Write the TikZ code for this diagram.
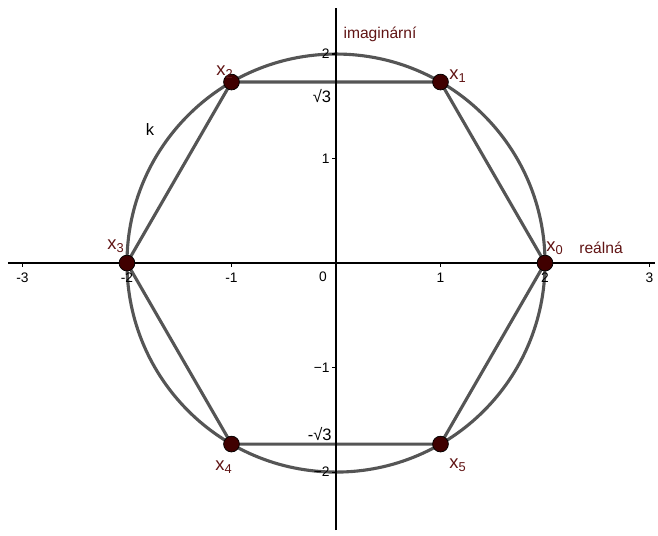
\documentclass[tikz,border=0pt]{standalone}
\usepackage{fontspec}
\setmainfont{Liberation Sans}
\usepackage{tikz}
\usetikzlibrary{positioning}
\definecolor{bodfill}{RGB}{64,0,0}
\definecolor{popis}{RGB}{96,20,20}
\definecolor{cara}{RGB}{85,85,85}

\begin{document}
\begin{tikzpicture}[x=2cm,y=2cm,
  osa/.style={line width=1.1pt,black},
  krivka/.style={line width=1.7pt,cara},
  bod/.style={circle,fill=bodfill,draw=black,line width=0.4pt,inner sep=0pt,minimum size=8.6pt},
  popisek/.style={text=popis,font=\fontsize{8.5}{9}\selectfont},
  bodpopis/.style={text=popis,font=\fontsize{10}{11}\selectfont,inner sep=1pt},
  cislo/.style={font=\fontsize{7.5}{8}\selectfont,inner sep=1pt}]
\useasboundingbox (-3.215,-2.603) rectangle (3.081,2.517);
% radius of circle k
\def\r{2}
\coordinate (O) at (0,0);
\foreach \k in {0,...,5} \coordinate (p\k) at (60*\k:\r);
% circle k and inscribed hexagon
\draw[krivka] (O) circle[radius=\r];
\draw[krivka] (p0) -- (p1) -- (p2) -- (p3) -- (p4) -- (p5) -- cycle;
% axes
\coordinate (xl) at (-3.14,0);
\coordinate (xr) at (3.05,0);
\coordinate (yb) at (0,-2.555);
\coordinate (yt) at (0,2.44);
\draw[osa] (xl) -- (xr);
\draw[osa] (yb) -- (yt);
\foreach \i/\t in {-3/-3,-2/-2,-1/-1,1/1,2/2,3/3} {
  \draw[line width=0.6pt] (\i,0) -- (\i,-0.04);
  \node[cislo,anchor=north] (tx\i) at (\i,-0.07) {\t};
}
\foreach \i/\t in {-2/−2,-1/−1,1/1,2/2} {
  \draw[line width=0.6pt] (0,\i) -- (-0.04,\i);
  \node[cislo,anchor=east] (ty\i) at (-0.04,\i) {\t};
}
\node[cislo] (t0) at (-0.124,-0.134) {0};
\node[cislo,font=\fontsize{9}{10}\selectfont] (s3) at (-0.135,1.595) {√3};
\node[cislo,font=\fontsize{9}{10}\selectfont] (ms3) at (-0.155,-1.636) {-√3};
% axis names
\node[popisek] (im) at (0.421,2.191) {imaginární};
\node[popisek] (re) at (2.536,0.144) {reálná};
\node[font=\fontsize{9}{10}\selectfont] (k) at (-1.78,1.282) {k};
% roots x_0 ... x_5
\foreach \k in {0,...,5} \node[bod] (x\k) at (p\k) {};
\node[bodpopis] (l0) at ([shift={(0.096,0.144)}]x0) {x\textsubscript{0}};
\node[bodpopis] (l1) at ([shift={(0.167,0.057)}]x1) {x\textsubscript{1}};
\node[bodpopis] (l2) at ([shift={(-0.062,0.096)}]x2) {x\textsubscript{2}};
\node[bodpopis] (l3) at ([shift={(-0.105,0.163)}]x3) {x\textsubscript{3}};
\node[bodpopis] (l4) at ([shift={(-0.072,-0.22)}]x4) {x\textsubscript{4}};
\node[bodpopis] (l5) at ([shift={(0.167,-0.2)}]x5) {x\textsubscript{5}};
\end{tikzpicture}
\end{document}
